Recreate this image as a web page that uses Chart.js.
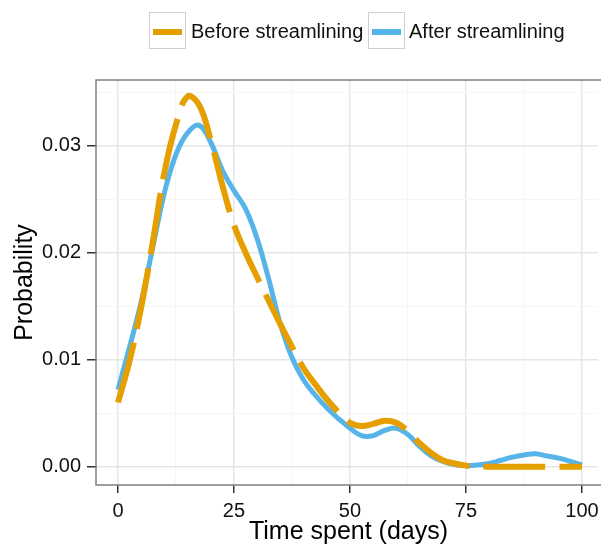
<!DOCTYPE html>
<html>
<head>
<meta charset="utf-8">
<script src="https://cdn.jsdelivr.net/npm/chart.js@4/dist/chart.umd.min.js"></script>
<style>
  body { margin: 0; background: #fff; font-family: "Liberation Sans", Arial, sans-serif; overflow: hidden; }
  #wrap { position: relative; width: 601px; height: 547px; }
  .key { position: absolute; top: 12px; width: 35px; height: 35px; border: 1.5px solid #cfcfcf; background: #fff; }
  .key span { position: absolute; left: 3px; right: 3px; top: 16px; height: 6px; }
  .lbl { position: absolute; top: 19px; font-size: 20px; line-height: 24px; color: #111; white-space: nowrap; }
</style>
</head>
<body>
<div id="wrap">
  <canvas id="density-chart" width="601" height="547"></canvas>
  <div class="key" style="left:149px"><span style="background:#E69F00"></span></div>
  <div class="lbl" style="left:191px">Before streamlining</div>
  <div class="key" style="left:368px"><span style="background:#56B4E9"></span></div>
  <div class="lbl" style="left:409px">After streamlining</div>
</div>
<script>
// Dage (x) - hver 2.5 dag
var days = [0, 2.5, 5, 7.5, 10, 12.5, 15, 17.5, 20, 22.5, 25, 27.5, 30, 32.5, 35, 37.5, 40, 42.5, 45, 47.5,
            50, 52.5, 55, 57.5, 60, 62.5, 65, 67.5, 70, 72.5, 75, 77.5, 80, 82.5, 85, 87.5, 90, 92.5, 95, 97.5, 100];

// Taethed foer og efter
var before = [0.0060, 0.0099, 0.0149, 0.0210, 0.0275, 0.0320, 0.0346, 0.0338, 0.0305, 0.0263,
              0.0226, 0.0200, 0.0177, 0.0155, 0.0133, 0.0112, 0.0092, 0.0077, 0.0063, 0.0051,
              0.0041, 0.0038, 0.0040, 0.0043, 0.0041, 0.0033, 0.0022, 0.0013, 0.0006, 0.0003,
              0.0001, 0.00003, 0, 0, 0, 0, 0, 0, 0, 0, 0];
var after = [0.0072, 0.0112, 0.0154, 0.0205, 0.0256, 0.0292, 0.0312, 0.0319, 0.0303, 0.0277,
             0.0258, 0.0241, 0.0213, 0.0175, 0.0133, 0.0102, 0.0081, 0.0067, 0.0055, 0.0045,
             0.0036, 0.0029, 0.0029, 0.0034, 0.0036, 0.0030, 0.0019, 0.0010, 0.0005, 0.0002,
             0.0001, 0.00015, 0.0003, 0.0006, 0.0009, 0.0011, 0.0012, 0.0010, 0.0008, 0.0005, 0.00016];

// Akse-ticks
var xMajor = [0, 25, 50, 75, 100];
var xMinor = [12.5, 37.5, 62.5, 87.5];
var yMajor = [0, 0.01, 0.02, 0.03];
var yMinor = [0.005, 0.015, 0.025, 0.035];

function points(ys) {
    return days.map(function (d, i) { return { x: d, y: ys[i] }; });
}

function isMajor(list, v) {
    return list.some(function (m) { return Math.abs(m - v) < 1e-9; });
}

function tickList(major, minor) {
    return major.concat(minor).sort(function (a, b) { return a - b; })
        .map(function (v) { return { value: v }; });
}

var majorGrid = '#e6e6e6';
var minorGrid = '#f5f5f5';

// Ramme om panelet (top, venstre, bund) - panelet fortsaetter ud over hoejre kant
var panelBorder = {
    id: 'panelBorder',
    afterDraw: function (chart) {
        var a = chart.chartArea, c = chart.ctx;
        c.save();
        c.fillStyle = '#fff';
        c.fillRect(a.right - 3, a.top, 3, a.bottom - a.top);
        c.strokeStyle = '#808080';
        c.lineWidth = 1.5;
        c.beginPath();
        c.moveTo(chart.width, a.top);
        c.lineTo(a.left, a.top);
        c.lineTo(a.left, a.bottom);
        c.lineTo(chart.width, a.bottom);
        c.stroke();
        c.restore();
    }
};

var ctx = document.getElementById('density-chart').getContext('2d');
var chart = new Chart(ctx, {
    type: 'line',
    data: {
        datasets: [{
            label: 'Before streamlining',
            data: points(before),
            borderColor: '#E69F00',
            borderWidth: 6,
            borderDash: [62, 14],
            borderCapStyle: 'butt',
            pointRadius: 0,
            tension: 0.4,
            fill: false
        }, {
            label: 'After streamlining',
            data: points(after),
            borderColor: '#56B4E9',
            borderWidth: 5,
            pointRadius: 0,
            tension: 0.4,
            fill: false
        }]
    },
    options: {
        responsive: false,
        animation: false,
        devicePixelRatio: 1,
        layout: { padding: { top: 80, left: 0, right: 0, bottom: 0 } },
        plugins: { legend: { display: false }, tooltip: { enabled: false } },
        scales: {
            x: {
                type: 'linear',
                min: -4.74,
                max: 104.1,
                afterBuildTicks: function (s) { s.ticks = tickList(xMajor, xMinor); },
                afterFit: function (s) { s.height = 62; s.paddingLeft = 0; s.paddingRight = 0; },
                border: { display: false },
                grid: {
                    color: function (c) { return isMajor(xMajor, c.tick.value) ? majorGrid : minorGrid; },
                    lineWidth: function (c) { return isMajor(xMajor, c.tick.value) ? 1.5 : 1; },
                    tickColor: function (c) { return isMajor(xMajor, c.tick.value) ? '#333' : 'rgba(0,0,0,0)'; },
                    tickWidth: 1.5,
                    tickLength: 8
                },
                ticks: {
                    autoSkip: false,
                    maxRotation: 0,
                    padding: 6,
                    color: '#111',
                    font: { family: 'Liberation Sans', size: 20 },
                    callback: function (v) { return isMajor(xMajor, v) ? String(v) : ''; }
                },
                title: {
                    display: true,
                    text: 'Time spent (days)',
                    color: '#000',
                    font: { family: 'Liberation Sans', size: 25 },
                    padding: { top: 0, bottom: 0 }
                }
            },
            y: {
                min: -0.00171,
                max: 0.03614,
                afterBuildTicks: function (s) { s.ticks = tickList(yMajor, yMinor); },
                afterFit: function (s) { s.width = 96; },
                border: { display: false },
                grid: {
                    color: function (c) { return isMajor(yMajor, c.tick.value) ? majorGrid : minorGrid; },
                    lineWidth: function (c) { return isMajor(yMajor, c.tick.value) ? 1.5 : 1; },
                    tickColor: function (c) { return isMajor(yMajor, c.tick.value) ? '#333' : 'rgba(0,0,0,0)'; },
                    tickWidth: 1.5,
                    tickLength: 9
                },
                ticks: {
                    autoSkip: false,
                    padding: 6,
                    color: '#111',
                    font: { family: 'Liberation Sans', size: 20 },
                    callback: function (v) { return isMajor(yMajor, v) ? v.toFixed(2) : ''; }
                },
                title: {
                    display: true,
                    text: 'Probability',
                    color: '#000',
                    font: { family: 'Liberation Sans', size: 25 },
                    padding: { top: 10, bottom: 0 }
                }
            }
        }
    },
    plugins: [panelBorder]
});
</script>
</body>
</html>
